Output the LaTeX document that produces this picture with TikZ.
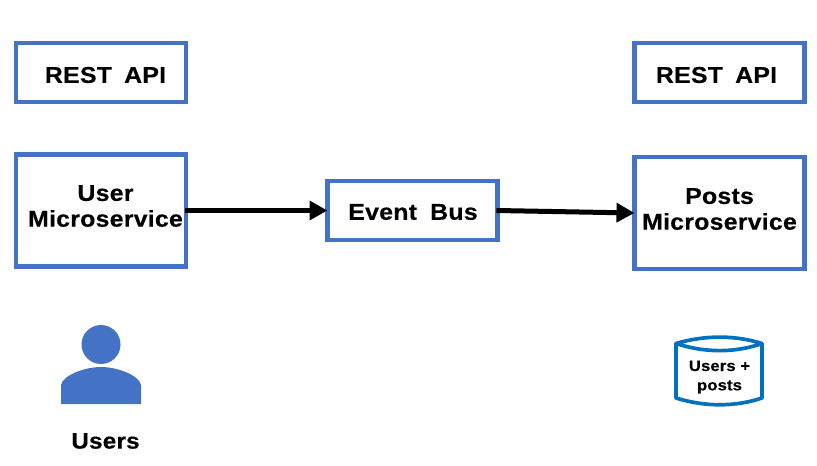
\documentclass[tikz,border=0pt]{standalone}
\usepackage{fontspec}
\setmainfont[BoldFeatures={FakeStretch=1.09,FakeBold=0.35},LetterSpace=1]{Liberation Sans}
\usetikzlibrary{arrows.meta}
\definecolor{boxblue}{HTML}{4472C4}
\definecolor{dbblue}{HTML}{0070C0}
\tikzset{
 svcbox/.style={draw=boxblue,line width=0.13cm,minimum width=5.1cm,outer sep=0pt},
 svctext/.style={align=center,font=\bfseries\fontsize{19.5}{22}\selectfont},
 flow/.style={line width=0.15cm,-{Triangle[length=0.54cm,width=0.56cm]},shorten <=-1pt},
}
\begin{document}
\begin{tikzpicture}[x=0.03cm,y=-0.03cm]
 \useasboundingbox (0,0) rectangle (817,465);
 \node[svcbox,minimum height=1.76cm] (restl) at (101,72.5) {};
 \node[svcbox,minimum height=1.76cm] (restr) at (719.5,72.5) {};
 \node[svcbox,minimum height=3.36cm] (user) at (101,210.5) {};
 \node[svcbox,minimum height=1.76cm] (bus) at (412.5,210.5) {};
 \node[svcbox,minimum height=3.36cm] (posts) at (719.5,213) {};
 \node[svctext] (restltext) at (105.5,75) {REST\hspace{0.15cm} API};
 \node[svctext] (restrtext) at (716.5,75) {REST\hspace{0.15cm} API};
 \node[svctext] (usertext) at (105.5,206) {User\\Microservice};
 \node[svctext] (bustext) at (413,212) {Event\hspace{0.18cm} Bus};
 \node[svctext] (poststext) at (719.5,209) {Posts\\Microservice};
 \draw[flow] (user) -- (bus);
 \draw[flow] (bus.east) -- (posts.west);
 % person
 \fill[boxblue] (101,344.5) circle (19.5);
 \fill[boxblue] (61,404) -- (61,385) .. controls (63,375) and (85,367) .. (101,367) .. controls (117,367) and (139,375) .. (141,385) -- (141,404) -- cycle;
 \node[svctext,font=\bfseries\fontsize{19}{22}\selectfont] (users) at (105.5,441) {Users};
 % database
 \draw[dbblue,line width=0.11cm,line join=round] (676,343.5) .. controls (705,335) and (735,335) .. (762,343.5) .. controls (735,353) and (705,353) .. (676,343.5) -- (676,398) .. controls (705,407) and (735,407) .. (762,398) -- (762,343.5);
 \node[svctext,font=\bfseries\fontsize{13}{16.5}\selectfont] (store) at (719.5,377) {Users +\\posts};
\end{tikzpicture}
\end{document}
